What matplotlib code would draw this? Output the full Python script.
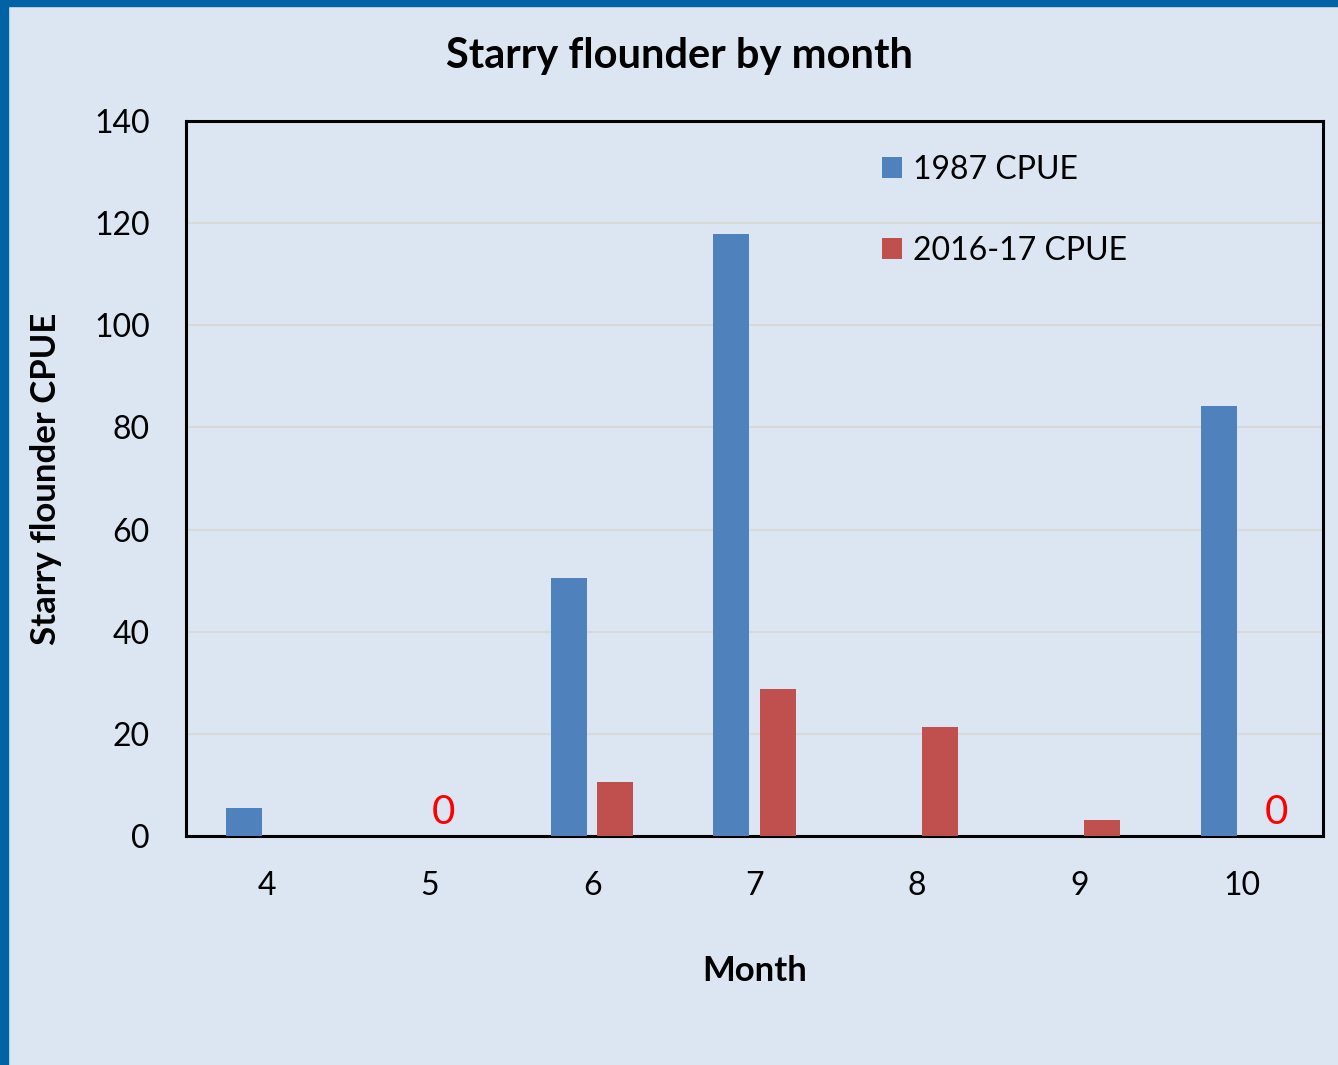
import numpy as np
import matplotlib.pyplot as plt
from matplotlib.patches import Rectangle

months = [4, 5, 6, 7, 8, 9, 10]
cpue_1987 = [5.5, 0, 50.5, 117.9, 0, 0, 84.2]
cpue_2016 = [0, 0, 10.6, 28.8, 21.3, 3.1, 0]
zero_label_months = [5, 10]  # months flagged with a red "0" for 2016-17

BG = '#dce6f2'
BLUE = '#4f81bd'
RED = '#c0504d'

plt.rcParams['font.family'] = ['Lato', 'DejaVu Sans']

fig = plt.figure(figsize=(13.38, 10.65), dpi=100, facecolor=BG)
ax = fig.add_axes([0.139, 0.215, 0.8498, 0.6715])
ax.set_facecolor(BG)

x = np.arange(len(months))
w = 0.222
off = 0.142
ax.bar(x - off, cpue_1987, width=w, color=BLUE, label='1987 CPUE', zorder=3)
ax.bar(x + off, cpue_2016, width=w, color=RED, label='2016-17 CPUE', zorder=3)

# the "0" labels sit slightly off the bar slot in the original
nudge = {5: -7, 10: 8}
for m in zero_label_months:
    i = months.index(m)
    ax.annotate('0', (x[i] + off, 0), xytext=(nudge.get(m, 0), 8.6),
                textcoords='offset points', ha='center', va='baseline',
                color='#ff0000', fontsize=29)

ax.set_xlim(-0.5, len(months) - 0.5)
ax.set_ylim(0, 140)
ax.set_yticks(range(0, 141, 20))
ax.set_xticks(x)
ax.set_xticklabels([str(m) for m in months])
ax.tick_params(length=0, labelsize=23)
ax.tick_params(axis='y', pad=26)
ax.tick_params(axis='x', pad=25)
ax.yaxis.grid(True, color='#d9d9d9', linewidth=1.5, zorder=0)
for s in ax.spines.values():
    s.set_linewidth(2.2)
    s.set_color('black')

fig.text(0.5075, 1 - 56 / 1065, 'Starry flounder by month', fontsize=30,
         fontweight='bold', ha='center', va='center')
ax.set_xlabel('Month', fontsize=25, fontweight='bold')
ax.set_ylabel('Starry flounder CPUE', fontsize=25, fontweight='bold')
ax.xaxis.set_label_coords(0.5, -0.167)
ax.yaxis.set_label_coords(-0.109, 0.5)

ax.legend(loc='upper left', bbox_to_anchor=(0.6121, 0.9524), frameon=False,
          fontsize=23, handlelength=0.63, handleheight=0.63, handletextpad=0.34,
          labelspacing=1.6, borderpad=0, borderaxespad=0)

# blue frame on left and top edges
fig.patches.append(Rectangle((0, 0), 8 / 1338, 1, transform=fig.transFigure,
                             color='#0063a6', zorder=10))
fig.patches.append(Rectangle((0, 1 - 6 / 1065), 1, 6 / 1065, transform=fig.transFigure,
                             color='#0063a6', zorder=10))

fig.savefig('out.png', dpi=100, facecolor=BG)
